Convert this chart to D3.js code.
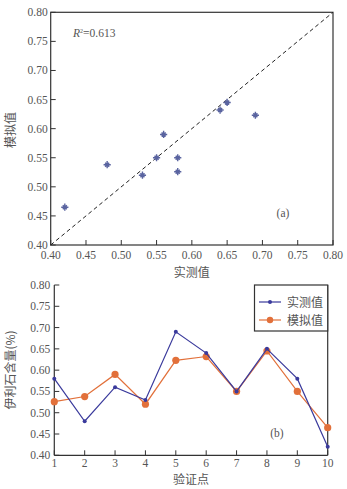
<!DOCTYPE html>
<html><head><meta charset="utf-8">
<script src="https://cdn.jsdelivr.net/npm/d3@7"></script>
<style>
html,body{margin:0;padding:0;background:#fff;}
svg{display:block;}
text{font-family:"Liberation Serif","Noto Sans CJK SC",serif;fill:#555;}
</style></head><body>
<script>
const points = [1,2,3,4,5,6,7,8,9,10];
const observed = [0.58,0.48,0.56,0.53,0.69,0.64,0.55,0.65,0.58,0.42];
const simulated = [0.526,0.538,0.59,0.52,0.623,0.632,0.55,0.645,0.55,0.465];
const ticksA = [0.40,0.45,0.50,0.55,0.60,0.65,0.70,0.75,0.80];
const seriesNames = ["实测值","模拟值"];
const r2Label = "0.613";

const W=347,H=489;
const svg=d3.select("body").append("svg").attr("width",W).attr("height",H);
const axisColor="#333";
const fs=11.5;
const cjk='"Noto Sans CJK SC",sans-serif';

// ---------- Panel (a) ----------
const A={l:50.7,r:333,t:12.3,b:245};
const xa=d3.scaleLinear().domain([0.4,0.8]).range([A.l,A.r]);
const ya=d3.scaleLinear().domain([0.4,0.8]).range([A.b,A.t]);
const ga=svg.append("g");
ga.append("rect").attr("x",A.l).attr("y",A.t).attr("width",A.r-A.l).attr("height",A.b-A.t)
  .attr("fill","none").attr("stroke",axisColor).attr("stroke-width",1.2);
ticksA.forEach(v=>{
  ga.append("line").attr("x1",xa(v)).attr("x2",xa(v)).attr("y1",A.b).attr("y2",A.b-5).attr("stroke",axisColor);
  ga.append("line").attr("x1",A.l).attr("x2",A.l+5).attr("y1",ya(v)).attr("y2",ya(v)).attr("stroke",axisColor);
  ga.append("text").attr("x",xa(v)).attr("y",A.b+14).attr("text-anchor","middle").attr("font-size",fs).text(v.toFixed(2));
  ga.append("text").attr("x",A.l-3).attr("y",ya(v)+4).attr("text-anchor","end").attr("font-size",fs).text(v.toFixed(2));
});
ga.append("line").attr("x1",xa(0.4)).attr("y1",ya(0.4)).attr("x2",xa(0.8)).attr("y2",ya(0.8))
  .attr("stroke","#222").attr("stroke-width",1).attr("stroke-dasharray","4,3");
// 8-arm star markers
function starPath(r){
  const p=d3.path();
  for(let k=0;k<4;k++){
    const a=k*Math.PI/4, rr=(k%2)?r*0.8:r;
    p.moveTo(-rr*Math.cos(a),-rr*Math.sin(a)); p.lineTo(rr*Math.cos(a),rr*Math.sin(a));
  }
  return p.toString();
}
ga.selectAll("path.pt").data(points.map((p,i)=>[observed[i],simulated[i]])).enter().append("path")
  .attr("transform",d=>`translate(${xa(d[0])},${ya(d[1])})`)
  .attr("d",starPath(3.6)).attr("stroke","#5a64a0").attr("stroke-width",1.4).attr("fill","none");
ga.append("text").attr("x",73).attr("y",37).attr("font-size",fs)
  .html('<tspan font-style="italic">R</tspan><tspan dy="-4" font-size="6">2</tspan><tspan dy="4">=</tspan>'+r2Label);
ga.append("text").attr("x",283).attr("y",217).attr("text-anchor","middle").attr("font-size",fs).text("(a)");
ga.append("text").attr("x",(A.l+A.r)/2).attr("y",277).attr("text-anchor","middle").attr("font-size",12).style("font-family",cjk).text("实测值");
ga.append("text").attr("transform",`translate(15,130) rotate(-90)`).attr("text-anchor","middle").attr("font-size",12).style("font-family",cjk).text("模拟值");

// ---------- Panel (b) ----------
const B={l:54.3,r:327.7,t:285,b:455.3};
const xb=d3.scalePoint().domain(points).range([B.l,B.r]);
const yb=d3.scaleLinear().domain([0.4,0.8]).range([B.b,B.t]);
const gb=svg.append("g");
gb.append("line").attr("x1",B.l).attr("x2",B.l).attr("y1",B.t).attr("y2",B.b).attr("stroke",axisColor).attr("stroke-width",1.2);
gb.append("line").attr("x1",B.l).attr("x2",B.r).attr("y1",B.b).attr("y2",B.b).attr("stroke",axisColor).attr("stroke-width",1.2);
gb.append("line").attr("x1",B.r).attr("x2",B.r).attr("y1",B.t).attr("y2",B.b).attr("stroke",axisColor).attr("stroke-width",1.2);
ticksA.forEach(v=>{
  gb.append("line").attr("x1",B.l).attr("x2",B.l+5).attr("y1",yb(v)).attr("y2",yb(v)).attr("stroke",axisColor);
  gb.append("text").attr("x",B.l-4).attr("y",yb(v)+4).attr("text-anchor","end").attr("font-size",fs).text(v.toFixed(2));
});
points.forEach(p=>{
  gb.append("line").attr("x1",xb(p)).attr("x2",xb(p)).attr("y1",B.b).attr("y2",B.b-5).attr("stroke",axisColor);
  gb.append("text").attr("x",xb(p)).attr("y",B.b+12).attr("text-anchor","middle").attr("font-size",fs).text(p);
});
const blue="#3a3a9c", orange="#e2703a";
const line=(arr)=>d3.line().x((d,i)=>xb(points[i])).y(d=>yb(d))(arr);
gb.append("path").attr("d",line(simulated)).attr("fill","none").attr("stroke",orange).attr("stroke-width",1.2);
gb.selectAll("circle.s").data(simulated).enter().append("circle")
  .attr("cx",(d,i)=>xb(points[i])).attr("cy",d=>yb(d)).attr("r",3.6).attr("fill",orange);
gb.append("path").attr("d",line(observed)).attr("fill","none").attr("stroke",blue).attr("stroke-width",1.2);
gb.selectAll("circle.o").data(observed).enter().append("circle")
  .attr("cx",(d,i)=>xb(points[i])).attr("cy",d=>yb(d)).attr("r",2).attr("fill",blue);
gb.append("rect").attr("x",254.5).attr("y",B.t).attr("width",B.r-254.5).attr("height",46)
  .attr("fill","#fff").attr("stroke",axisColor).attr("stroke-width",1.2);
[[blue,2,302],[orange,3.2,320]].forEach((c,i)=>{
  gb.append("line").attr("x1",259).attr("x2",281).attr("y1",c[2]).attr("y2",c[2]).attr("stroke",c[0]).attr("stroke-width",1.2);
  gb.append("circle").attr("cx",270).attr("cy",c[2]).attr("r",c[1]).attr("fill",c[0]);
  gb.append("text").attr("x",287).attr("y",c[2]+4.5).attr("font-size",12).style("font-family",cjk).text(seriesNames[i]);
});
gb.append("text").attr("x",277).attr("y",437).attr("text-anchor","middle").attr("font-size",fs).text("(b)");
gb.append("text").attr("x",(B.l+B.r)/2).attr("y",484).attr("text-anchor","middle").attr("font-size",12).style("font-family",cjk).text("验证点");
gb.append("text").attr("transform",`translate(15,370) rotate(-90)`).attr("text-anchor","middle").attr("font-size",12).style("font-family",cjk).text("伊利石含量(%)");
</script>
</body></html>
